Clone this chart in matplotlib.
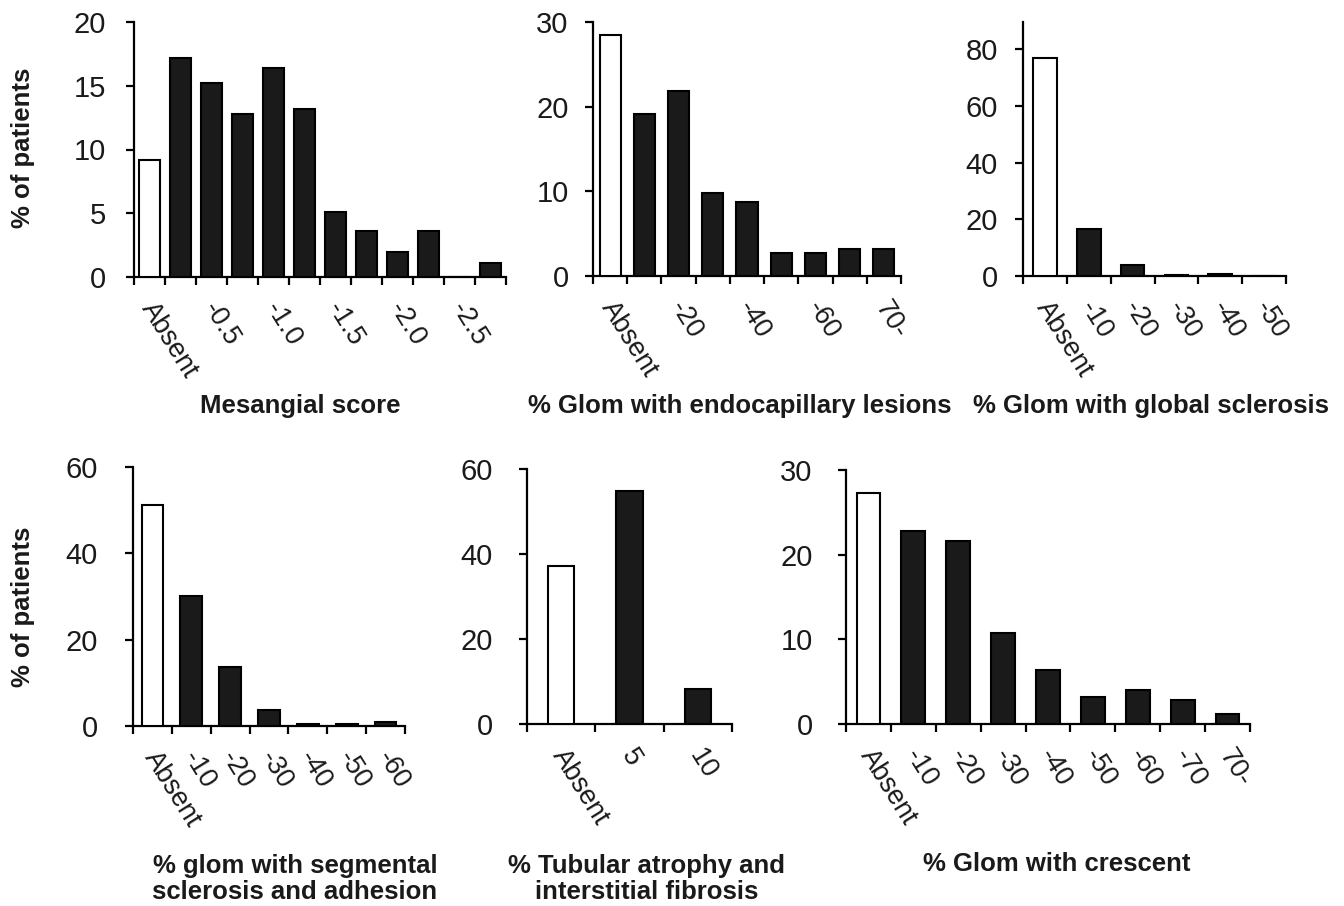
import matplotlib
matplotlib.use("Agg")
import matplotlib.pyplot as plt
import matplotlib.transforms as mtransforms
import numpy as np

plt.rcParams['font.family'] = ['Liberation Sans', 'DejaVu Sans']

# ---- data ----
mes_labels = ["Absent", "", "-0.5", "", "-1.0", "", "-1.5", "", "-2.0", "", "-2.5", ""]
mes_values = [9.2, 17.2, 15.2, 12.8, 16.4, 13.2, 5.1, 3.6, 2.0, 3.6, 0.0, 1.1]

endo_labels = ["Absent", "", "-20", "", "-40", "", "-60", "", "70-"]
endo_values = [28.5, 19.1, 21.9, 9.8, 8.7, 2.7, 2.7, 3.2, 3.2]

glob_labels = ["Absent", "-10", "-20", "-30", "-40", "-50"]
glob_values = [76.9, 16.6, 3.8, 0.5, 0.8, 0.0]

seg_labels = ["Absent", "-10", "-20", "-30", "-40", "-50", "-60"]
seg_values = [51.2, 30.2, 13.7, 3.6, 0.5, 0.5, 0.9]

tub_labels = ["Absent", "5", "10"]
tub_values = [37.1, 54.9, 8.2]

cres_labels = ["Absent", "-10", "-20", "-30", "-40", "-50", "-60", "-70", "70-"]
cres_values = [27.3, 22.8, 21.6, 10.8, 6.4, 3.2, 4.0, 2.8, 1.2]

W, H = 1344, 906
fig = plt.figure(figsize=(W / 100, H / 100), dpi=100)
fig.patch.set_facecolor('white')

DARK = '#1a1a1a'
YTICK_FS = 21
XTICK_FS = 19.5
LABEL_FS = 18.5


def make_panel(box, labels, values, yticks, ymax, width, ypad_px, xlabel, xlab_pos, ylabel=None):
    left, top, right, bottom = box
    ax = fig.add_axes([left / W, 1 - bottom / H, (right - left) / W, (bottom - top) / H])
    n = len(values)
    x = np.arange(n)
    colors = ['white'] + [DARK] * (n - 1)
    ax.bar(x, values, width=width, color=colors, edgecolor='black', linewidth=1.5, zorder=3)
    ax.set_xlim(-0.5, n - 0.5)
    ax.set_ylim(0, ymax)
    for s in ['top', 'right']:
        ax.spines[s].set_visible(False)
    for s in ['left', 'bottom']:
        ax.spines[s].set_linewidth(1.6)
        ax.spines[s].set_color('black')
    ax.set_yticks(yticks)
    ax.set_yticklabels([str(t) for t in yticks])
    ax.tick_params(axis='y', length=6, width=1.6, labelsize=YTICK_FS, pad=ypad_px * 0.72,
                   colors='black', labelcolor=DARK)
    # boundary ticks (major), labels on minor ticks at bar centers
    ax.set_xticks(np.arange(n + 1) - 0.5)
    ax.set_xticklabels([''] * (n + 1))
    ax.tick_params(axis='x', which='major', length=6, width=1.6, direction='out')
    ax.set_xticks(x, minor=True)
    ax.set_xticklabels(labels, minor=True)
    ax.tick_params(axis='x', which='minor', length=0, pad=15, labelsize=XTICK_FS, labelcolor=DARK)
    off = mtransforms.ScaledTranslation(8 / 100, 0, fig.dpi_scale_trans)
    for lab in ax.get_xticklabels(minor=True):
        lab.set_rotation(-58)
        lab.set_rotation_mode('anchor')
        lab.set_ha('left')
        lab.set_va('top')
        lab.set_transform(lab.get_transform() + off)
    # x label
    lx, ly = xlab_pos
    fig.text(lx / W, 1 - ly / H, xlabel, ha='center', va='center', fontsize=LABEL_FS,
             fontweight='bold', color=DARK, linespacing=1.1)
    if ylabel:
        yl_x, yl_y = ylabel[1]
        fig.text(yl_x / W, 1 - yl_y / H, ylabel[0], rotation=90, ha='center', va='center',
                 fontsize=LABEL_FS, fontweight='bold', color=DARK)
    return ax


make_panel((134, 22, 506, 277), mes_labels, mes_values, [0, 5, 10, 15, 20], 20, 0.69, 20,
           "Mesangial score", (300, 406), ylabel=("% of patients", (23, 148)))
make_panel((593, 22, 901, 276), endo_labels, endo_values, [0, 10, 20, 30], 30, 0.62, 16,
           "% Glom with endocapillary lesions", (740, 406))
make_panel((1023, 22, 1286, 276), glob_labels, glob_values, [0, 20, 40, 60, 80], 89.6, 0.54, 17,
           "% Glom with global sclerosis", (1151, 406))
make_panel((133, 467, 405, 726), seg_labels, seg_values, [0, 20, 40, 60], 60, 0.56, 27,
           "% glom with segmental\nsclerosis and adhesion", (295, 879),
           ylabel=("% of patients", (23, 607)))
make_panel((527, 469, 732, 724), tub_labels, tub_values, [0, 20, 40, 60], 60, 0.39, 26,
           "% Tubular atrophy and\ninterstitial fibrosis", (647, 879))
make_panel((846, 470, 1250, 724), cres_labels, cres_values, [0, 10, 20, 30], 30, 0.53, 25,
           "% Glom with crescent", (1057, 864))

fig.savefig("out.png", dpi=100, facecolor='white')
